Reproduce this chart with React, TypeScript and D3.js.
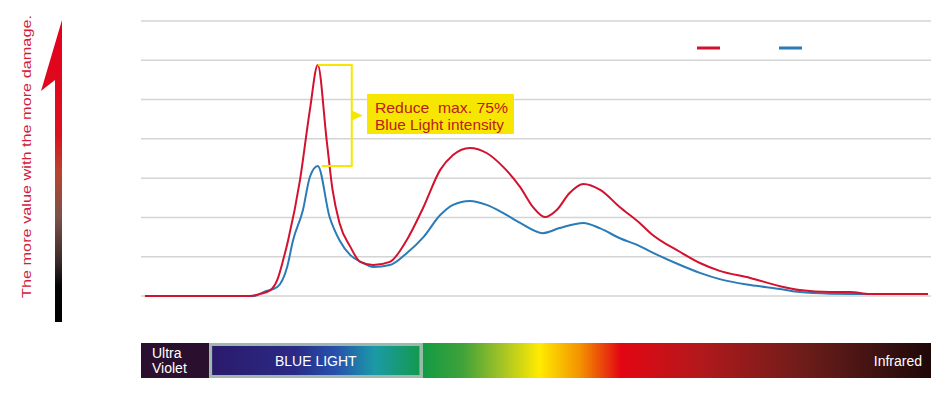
import React from 'react';
import * as d3 from 'd3';

// wavelength (nm) / relative intensity
const redNm = [304, 410, 420, 431, 438, 444, 449, 461, 471, 479, 488, 494, 501, 512, 522, 535, 552, 569, 586, 603, 616, 633, 650, 667, 684, 697, 709, 721, 734, 748, 765, 785, 805, 816, 846, 866, 886, 917, 947, 967, 998, 1018, 1038, 1097];
const redVal = [0, 0, 0.05, 0.15, 0.41, 0.92, 1.42, 2.95, 4.73, 5.88, 3.97, 2.7, 1.86, 1.25, 0.87, 0.79, 0.87, 1.42, 2.26, 3.21, 3.59, 3.77, 3.64, 3.28, 2.77, 2.26, 2.01, 2.19, 2.62, 2.85, 2.7, 2.26, 1.86, 1.6, 1.12, 0.84, 0.64, 0.46, 0.25, 0.15, 0.1, 0.1, 0.05, 0.05];
const blueNm = [304, 415, 424, 438, 448, 454, 464, 471, 479, 491, 501, 512, 525, 535, 552, 569, 586, 603, 616, 633, 650, 667, 684, 707, 724, 748, 765, 785, 805, 816, 846, 866, 886, 917, 947, 967, 998, 1038, 1097];
const blueVal = [0, 0, 0.1, 0.23, 0.74, 1.42, 2.19, 3.03, 3.31, 2.01, 1.42, 1.04, 0.84, 0.74, 0.79, 1.09, 1.5, 2.06, 2.32, 2.42, 2.32, 2.11, 1.86, 1.6, 1.73, 1.86, 1.72, 1.47, 1.27, 1.13, 0.79, 0.59, 0.43, 0.28, 0.18, 0.1, 0.06, 0.05, 0.05];
const gridTicks = [0, 1, 2, 3, 4, 5, 6, 7];
const bandEdges = [300, 369, 585, 1100];
const bandLabels = ['Ultra Violet', 'BLUE LIGHT', 'Infrared'];
const calloutLines = ['Reduce  max. 75%', 'Blue Light intensity'];
const axisNote = 'The more value with the more damage.';

const RED = '#d2122e';
const BLUE = '#2a7bb7';
const YELLOW = '#f7e600';

const App = () => {
  const width = 950;
  const height = 396;
  const x = d3.scaleLinear().domain([300, 1100]).range([141, 931]);
  const y = d3.scaleLinear().domain([0, 7]).range([296, 21]);

  const line = d3
    .line<[number, number]>()
    .x((d) => x(d[0]))
    .y((d) => y(d[1]))
    .curve(d3.curveMonotoneX);

  const red = redNm.map((n, i) => [n, redVal[i]] as [number, number]);
  const blue = blueNm.map((n, i) => [n, blueVal[i]] as [number, number]);

  // callout bracket between both peaks
  const redPeak = red[d3.maxIndex(red, (d) => d[1])];
  const bluePeak = blue[d3.maxIndex(blue, (d) => d[1])];
  const px = x(redPeak[0]);
  const topY = y(redPeak[1]);
  const botY = y(bluePeak[1]);
  const bx = px + 34;
  const midY = (topY + botY) / 2;

  const barTop = 343;
  const barH = 35;

  return (
    <svg width={width} height={height} style={{ position: 'absolute', left: 0, top: 0, background: '#fff' }}>
      <defs>
        <linearGradient id="arrowGrad" x1="0" y1="0" x2="0" y2="1">
          <stop offset="0" stopColor="#e3001b" />
          <stop offset="0.38" stopColor="#dc1020" />
          <stop offset="0.5" stopColor="#b8432e" />
          <stop offset="0.65" stopColor="#7c5248" />
          <stop offset="0.8" stopColor="#3a2a2a" />
          <stop offset="0.88" stopColor="#050505" />
          <stop offset="1" stopColor="#000" />
        </linearGradient>
        <linearGradient id="blueGrad" x1="0" y1="0" x2="1" y2="0">
          <stop offset="0" stopColor="#2b1a6a" />
          <stop offset="0.4" stopColor="#2a2a86" />
          <stop offset="0.6" stopColor="#2652ad" />
          <stop offset="0.78" stopColor="#1b9aa6" />
          <stop offset="1" stopColor="#13994c" />
        </linearGradient>
        <linearGradient id="specGrad" x1="0" y1="0" x2="1" y2="0">
          <stop offset="0" stopColor="#129a45" />
          <stop offset="0.08" stopColor="#41a23a" />
          <stop offset="0.16" stopColor="#a8c524" />
          <stop offset="0.23" stopColor="#ffeb00" />
          <stop offset="0.31" stopColor="#f39200" />
          <stop offset="0.39" stopColor="#e30613" />
          <stop offset="0.55" stopColor="#b1191c" />
          <stop offset="0.75" stopColor="#6d1d1a" />
          <stop offset="0.92" stopColor="#361010" />
          <stop offset="1" stopColor="#1f0707" />
        </linearGradient>
      </defs>

      {/* left arrow */}
      <path d="M55,322 L55,80 L41,91 L62,20 L62,322 Z" fill="url(#arrowGrad)" />
      <text
        transform="translate(31,298) rotate(-90)"
        fill="#d3203a"
        fontFamily="'Liberation Sans', Arial, sans-serif"
        fontSize={13.5}
        textLength={283}
        lengthAdjust="spacingAndGlyphs"
      >
        {axisNote}
      </text>

      {/* grid */}
      {gridTicks.map((t) => (
        <line key={t} x1={141} x2={931} y1={y(t)} y2={y(t)} stroke="#d4d4d4" strokeWidth={1.5} />
      ))}

      {/* legend */}
      <line x1={697} x2={720} y1={48} y2={48} stroke={RED} strokeWidth={3} />
      <line x1={779} x2={802} y1={48} y2={48} stroke={BLUE} strokeWidth={3} />

      {/* series */}
      <path d={line(blue) || ''} fill="none" stroke={BLUE} strokeWidth={2} />
      <path d={line(red) || ''} fill="none" stroke={RED} strokeWidth={2} />

      {/* callout */}
      <path
        d={`M${px},${topY} H${bx} V${botY} H${px + 4}`}
        fill="none"
        stroke={YELLOW}
        strokeWidth={2}
      />
      <path d={`M${bx},${midY - 5} L${bx + 11},${midY} L${bx},${midY + 5} Z`} fill={YELLOW} />
      <rect x={367} y={94} width={147} height={40} fill={YELLOW} />
      {calloutLines.map((t, i) => (
        <text
          key={t}
          x={375}
          y={113 + i * 16.5}
          fill="#b8201f"
          fontFamily="'Liberation Sans', Arial, sans-serif"
          fontSize={15}
          textLength={i === 0 ? 133 : 129}
          lengthAdjust="spacingAndGlyphs"
          style={{ whiteSpace: 'pre' }}
        >
          {t}
        </text>
      ))}

      {/* spectrum bar */}
      <rect x={x(bandEdges[0])} y={barTop} width={x(bandEdges[1]) - x(bandEdges[0])} height={barH} fill="#2b0f2e" />
      <rect x={x(bandEdges[2])} y={barTop} width={x(bandEdges[3]) - x(bandEdges[2])} height={barH} fill="url(#specGrad)" />
      <rect
        x={x(bandEdges[1]) + 1.5}
        y={barTop + 1.5}
        width={x(bandEdges[2]) - x(bandEdges[1]) - 3}
        height={barH - 3}
        fill="url(#blueGrad)"
        stroke="#9fb8ae"
        strokeWidth={3}
      />
      <text x={152} y={barTop + 15} fill="#fff" fontFamily="'Liberation Sans', Arial, sans-serif" fontSize={14}>
        {bandLabels[0].split(' ')[0]}
      </text>
      <text x={152} y={barTop + 30} fill="#fff" fontFamily="'Liberation Sans', Arial, sans-serif" fontSize={14}>
        {bandLabels[0].split(' ')[1]}
      </text>
      <text
        x={(x(bandEdges[1]) + x(bandEdges[2])) / 2}
        y={barTop + 23}
        fill="#fff"
        textAnchor="middle"
        fontFamily="'Liberation Sans', Arial, sans-serif"
        fontSize={14}
      >
        {bandLabels[1]}
      </text>
      <text x={922} y={barTop + 23} fill="#fff" textAnchor="end" fontFamily="'Liberation Sans', Arial, sans-serif" fontSize={14}>
        {bandLabels[2]}
      </text>
    </svg>
  );
};

export default App;
